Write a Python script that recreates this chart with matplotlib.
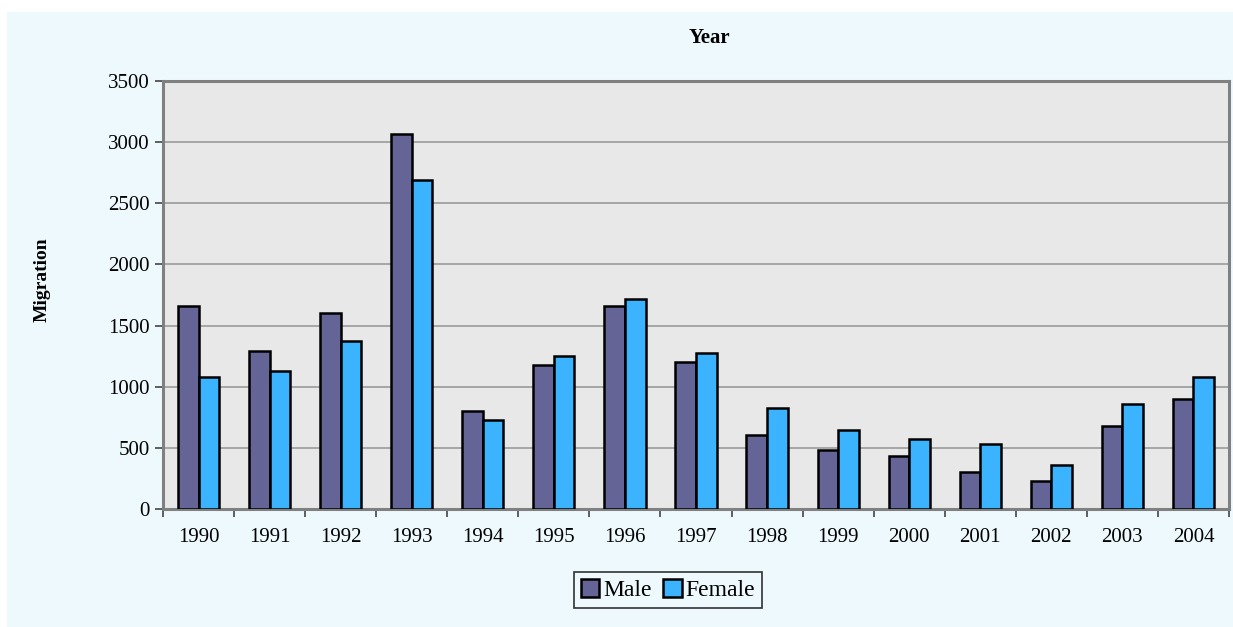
import numpy as np
import matplotlib
matplotlib.use("Agg")
import matplotlib.pyplot as plt
from matplotlib.patches import Rectangle

years = ["1990", "1991", "1992", "1993", "1994", "1995", "1996", "1997",
         "1998", "1999", "2000", "2001", "2002", "2003", "2004"]
male = [1660, 1292, 1603, 3067, 801, 1178, 1660, 1202, 605, 483, 433, 303, 229, 679, 900]
female = [1080, 1128, 1374, 2690, 728, 1251, 1717, 1276, 826, 646, 572, 532, 360, 859, 1080]

plt.rcParams["font.family"] = ["Liberation Serif", "DejaVu Serif"]

fig = plt.figure(figsize=(12.33, 6.27), dpi=100, facecolor="white")
# outer chart area (light cyan), behind everything
fig.patches.append(Rectangle((7 / 1233, 0), 1, 1 - 12 / 627, transform=fig.transFigure,
                             facecolor="#EEF9FE", edgecolor="none", zorder=-10))

ax = fig.add_axes([163 / 1233, 1 - 509 / 627, (1229 - 163) / 1233, (509 - 81) / 627])
ax.set_facecolor("#E8E8E8")

x = np.arange(len(years))
w = 0.29
ax.bar(x - w / 2, male, width=w, color="#646496", edgecolor="black", linewidth=1.8,
       label="Male", zorder=3)
ax.bar(x + w / 2, female, width=w, color="#3BB3FE", edgecolor="black", linewidth=1.8,
       label="Female", zorder=3)

ax.set_xlim(-0.5, len(years) - 0.5)
ax.set_ylim(0, 3500)
ax.set_yticks(range(0, 3501, 500))
ax.yaxis.grid(True, color="#9A9A9A", linewidth=1.2, zorder=1)
ax.set_axisbelow(True)

ax.set_xticks(x)
ax.set_xticklabels(years, fontsize=15)
ax.set_xticks(np.arange(-0.5, len(years), 1), minor=True)
ax.tick_params(axis="x", which="major", length=0, pad=14)
ax.tick_params(axis="x", which="minor", length=6, width=1.2, color="#444444", direction="out")
ax.tick_params(axis="y", labelsize=15, length=6, width=1.2, color="#444444", direction="out")

for s in ax.spines.values():
    s.set_color("#808080")
    s.set_linewidth(2.2)

fig.text(709 / 1233, 1 - 38 / 627, "Year", ha="center", va="center",
         fontsize=15, fontweight="bold")
fig.text(42 / 1233, 1 - 280 / 627, "Migration", ha="center", va="center",
         rotation=90, fontsize=14, fontweight="bold")

leg = fig.legend(loc="center", bbox_to_anchor=(668 / 1233, 1 - 590 / 627), ncol=2,
                 fontsize=17, frameon=True, fancybox=False, handlelength=0.8,
                 handleheight=0.8, handletextpad=0.15, columnspacing=0.5,
                 borderpad=0.3)
leg.get_frame().set_edgecolor("black")
leg.get_frame().set_facecolor("#EEF9FE")
leg.get_frame().set_linewidth(1.2)

fig.savefig("out.png", dpi=100, facecolor=fig.get_facecolor())
